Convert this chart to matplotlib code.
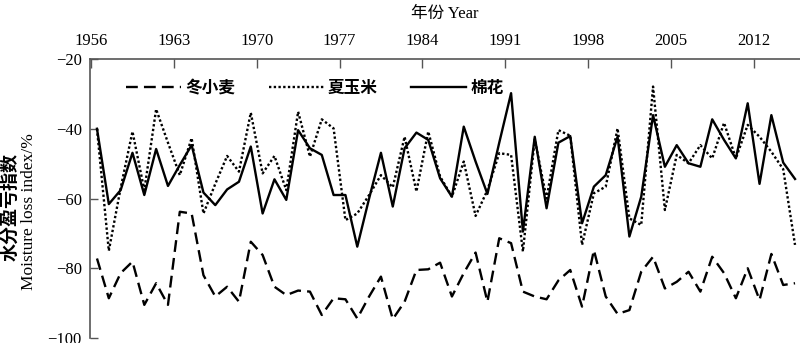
#Packages
import matplotlib
matplotlib.use('Agg')
import matplotlib.pyplot as plt

#Fonts: Times-like serif for numbers, CJK fallback for Chinese
serif_cjk = ['Liberation Serif', 'Noto Sans CJK SC']
plt.rcParams['font.family'] = serif_cjk

#Data
years = list(range(1956, 2016))

winter_wheat = [-77.2, -88.6, -81.4, -78.1, -90.5, -84.3, -90.5, -63.8, -64.3, -82.0,
                -88.1, -85.3, -89.6, -72.4, -76.2, -85.3, -87.7, -86.4, -86.7, -93.4,
                -88.6, -88.9, -94.4, -88.1, -82.4, -94.6, -89.6, -80.5, -80.3, -78.4,
                -88.1, -81.4, -75.5, -89.6, -71.4, -72.8, -86.7, -88.1, -88.9, -83.5,
                -80.5, -91.0, -74.8, -88.1, -93.1, -92.0, -81.0, -76.7, -85.8, -83.9,
                -81.0, -86.7, -76.7, -81.4, -88.6, -80.0, -89.1, -75.9, -84.8, -84.3]

summer_maize = [-40.0, -75.0, -57.0, -40.8, -57.6, -34.4, -44.0, -53.3, -42.7, -64.3,
                -55.8, -47.8, -52.3, -35.4, -52.8, -47.8, -57.6, -35.1, -48.0, -37.3,
                -39.9, -66.2, -64.3, -59.0, -53.3, -56.8, -42.3, -58.0, -40.8, -53.7,
                -59.5, -49.4, -65.0, -57.6, -47.0, -47.5, -75.2, -43.0, -60.0, -40.4,
                -42.0, -73.3, -58.5, -56.6, -39.9, -65.7, -67.6, -27.9, -63.3, -47.5,
                -49.9, -44.7, -48.5, -38.3, -48.5, -38.9, -42.3, -46.6, -51.6, -73.3]

cotton = [-40.0, -61.6, -57.6, -46.9, -59.0, -45.8, -56.4, -50.4, -44.7, -58.3,
          -61.9, -57.4, -55.2, -45.1, -64.3, -54.5, -60.4, -40.4, -45.6, -47.5,
          -59.0, -59.0, -73.8, -60.0, -46.9, -62.3, -45.6, -41.1, -43.2, -54.2,
          -59.5, -39.4, -49.4, -58.7, -44.0, -29.8, -69.5, -42.3, -62.8, -44.0,
          -42.1, -67.1, -56.6, -53.3, -42.3, -70.9, -59.5, -36.1, -50.9, -44.7,
          -49.9, -50.9, -37.3, -43.2, -48.5, -32.7, -55.8, -36.1, -49.7, -54.4]

tick_years = [1956, 1963, 1970, 1977, 1984, 1991, 1998, 2005, 2012]
y_ticks = [-100, -80, -60, -40, -20]

#Figure
fig = plt.figure(figsize=(8, 3.43), dpi=100)
ax = fig.add_axes([90/800, 5/343, 710/800, 279/343])

ax.plot(years, winter_wheat, color='black', lw=1.7, linestyle=(0, (5, 2.6)), label='冬小麦')
ax.plot(years, summer_maize, color='black', lw=1.7, linestyle=(0, (1, 1)), label='夏玉米')
ax.plot(years, cotton, color='black', lw=1.7, linestyle='-', label='棉花')

ax.set_xlim(1955.41, 2015.42)
ax.set_ylim(-100, -20)

# year ticks sit between categories, labels on top
ax.set_xticks([y - 0.5 for y in tick_years])
ax.set_xticklabels([str(y) for y in tick_years])
ax.set_yticks(y_ticks)
ax.xaxis.tick_top()
ax.tick_params(axis='x', direction='in', length=6.5, width=1, color='#555555',
               labelsize=12, pad=7)
ax.tick_params(axis='y', direction='in', length=6, width=1, color='#555555',
               labelsize=12, pad=6)

for side in ['bottom', 'right']:
    ax.spines[side].set_visible(False)
for side in ['top', 'left']:
    ax.spines[side].set_color('#555555')
    ax.spines[side].set_linewidth(1.2)

ax.xaxis.set_label_position('top')
ax.set_xlabel('年份 Year', fontsize=12, labelpad=11)

#Legend
ax.legend(loc='center left', bbox_to_anchor=(0.03, 0.896), ncol=3, frameon=False,
          handlelength=3.3, handletextpad=0.25, columnspacing=2.0,
          prop={'family': ['Noto Sans CJK SC'], 'size': 12, 'weight': 'bold'})

#Y axis label (two lines)
fig.text(0.0125, 0.396, '水分盈亏指数', rotation=90, ha='center', va='center',
         fontsize=13, fontweight='bold', family=['Noto Sans CJK SC'])
fig.text(0.036, 0.382, 'Moisture loss index/%', rotation=90, ha='center', va='center',
         fontsize=12.5, family=serif_cjk)

plt.savefig('out.png', dpi=100)
